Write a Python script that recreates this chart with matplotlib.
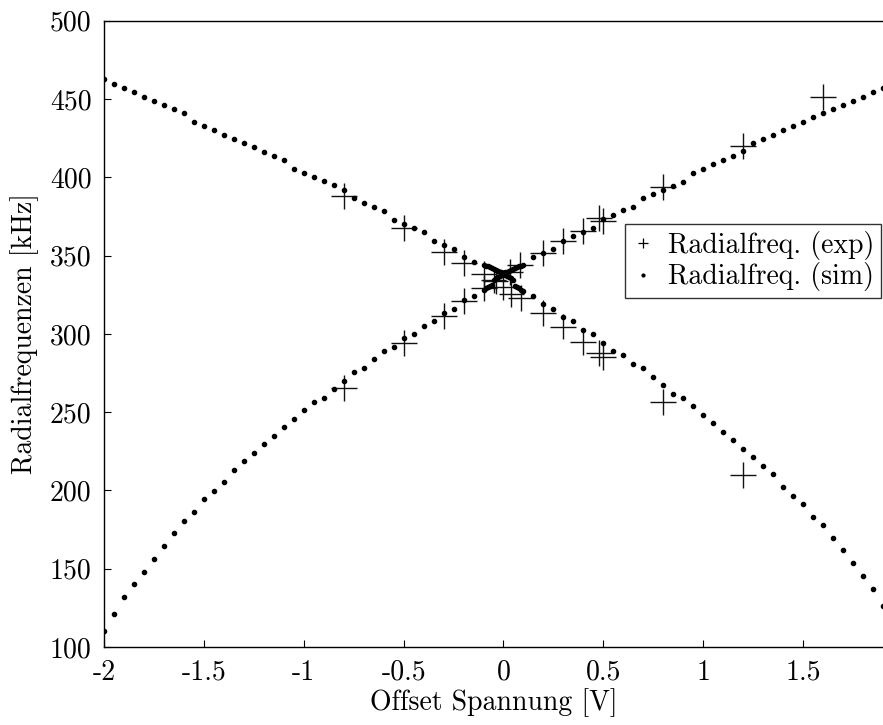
"""Radial frequencies vs. offset voltage: measurement (crosses) and simulation (dots)."""

import matplotlib

matplotlib.use("Agg")
import matplotlib.pyplot as plt
from matplotlib.lines import Line2D

# simulation grid [V]: coarse outside +-0.1 V, fine around the crossing
sim_voltage = [
    -2.00, -1.95, -1.90, -1.85, -1.80, -1.75, -1.70, -1.65, -1.60, -1.55,
    -1.50, -1.45, -1.40, -1.35, -1.30, -1.25, -1.20, -1.15, -1.10, -1.05,
    -1.00, -0.95, -0.90, -0.85, -0.80, -0.75, -0.70, -0.65, -0.60, -0.55,
    -0.50, -0.45, -0.40, -0.35, -0.30, -0.25, -0.20, -0.15,
    -0.10, -0.09, -0.08, -0.07, -0.06, -0.05, -0.04, -0.03, -0.02, -0.01,
    0.00, 0.01, 0.02, 0.03, 0.04, 0.05, 0.06, 0.07, 0.08, 0.09, 0.10,
    0.15, 0.20, 0.25, 0.30, 0.35, 0.40, 0.45, 0.50, 0.55, 0.60,
    0.65, 0.70, 0.75, 0.80, 0.85, 0.90, 0.95, 1.00, 1.05, 1.10,
    1.15, 1.20, 1.25, 1.30, 1.35, 1.40, 1.45, 1.50, 1.55, 1.60,
    1.65, 1.70, 1.75, 1.80, 1.85, 1.90,
]
# branch falling with voltage [kHz]
sim_freq_down = [
    462.8, 459.8, 457.0, 454.2, 451.5, 448.9, 446.1, 443.6, 440.8, 435.5,
    432.7, 429.9, 427.2, 424.6, 421.9, 419.1, 416.3, 413.7, 411.0, 405.6,
    402.9, 400.1, 397.6, 394.8, 392.0, 386.5, 383.7, 381.2, 378.4, 372.9,
    370.3, 367.6, 364.9, 359.4, 356.8, 353.9, 348.8, 345.8,
    343.8, 343.5, 343.1, 342.6, 342.1, 341.6, 341.0, 340.4, 339.8, 339.2,
    338.6, 337.9, 337.1, 336.3, 335.4, 334.4, 330.6, 329.8, 329.0, 328.2, 327.3,
    324.1, 319.0, 316.0, 310.8, 308.0, 302.6, 299.8, 294.4, 289.0, 286.4,
    280.8, 278.1, 272.7, 267.2, 261.9, 259.3, 253.8, 248.2, 243.1, 237.6,
    232.1, 226.7, 221.4, 215.9, 210.5, 202.2, 196.7, 191.6, 183.3, 177.9,
    169.8, 161.9, 153.5, 145.4, 137.3, 126.4,
]
# branch rising with voltage [kHz]
sim_freq_up = [
    110.4, 121.3, 131.9, 140.3, 148.1, 156.4, 164.5, 172.7, 180.7, 186.1,
    194.4, 199.7, 205.2, 213.3, 218.7, 224.2, 229.5, 235.0, 240.4, 245.7,
    251.2, 256.6, 259.3, 264.9, 270.2, 275.5, 278.3, 283.8, 289.1, 291.9,
    297.3, 300.0, 305.2, 308.1, 313.4, 316.0, 321.5, 324.3,
    328.0, 329.0, 329.8, 330.6, 331.4, 334.4, 335.4, 336.3, 337.1, 337.9,
    338.6, 339.2, 339.8, 340.4, 341.0, 341.6, 342.1, 342.6, 343.1, 343.5, 343.8,
    348.8, 351.6, 354.0, 359.4, 362.2, 365.2, 367.6, 373.2, 376.0, 378.8,
    381.3, 386.7, 389.3, 392.0, 394.6, 397.3, 402.7, 405.4, 408.2, 411.1,
    413.7, 416.9, 421.9, 424.6, 427.2, 429.9, 432.5, 435.3, 438.2, 441.0,
    443.6, 446.3, 448.9, 451.6, 454.4, 457.0,
]

# measurements
exp_voltage_down = [-0.8, -0.5, -0.3, -0.2, -0.1, -0.04, 0.0, 0.04, 0.09,
                    0.2, 0.3, 0.4, 0.48, 0.5, 0.8, 1.2]
exp_freq_down = [388.0, 367.5, 352.6, 345.5, 338.1, 333.5, 330.2, 325.5, 323.0,
                 313.3, 304.7, 295.1, 287.7, 285.2, 256.7, 209.9]
exp_voltage_up = [-0.8, -0.5, -0.3, -0.2, -0.1, -0.05, 0.035, 0.085,
                  0.2, 0.3, 0.4, 0.48, 0.5, 0.8, 1.2, 1.6]
exp_freq_up = [265.3, 294.1, 311.1, 320.7, 329.2, 334.5, 339.8, 344.1,
               351.6, 359.2, 366.0, 374.0, 372.3, 394.1, 420.1, 451.6]
voltage_err = 0.065
freq_err = 8.3

x_ticks = [-2, -1.5, -1, -0.5, 0, 0.5, 1, 1.5]
x_tick_labels = ["-2", "-1.5", "-1", "-0.5", "0", "0.5", "1", "1.5"]
y_ticks = [100, 150, 200, 250, 300, 350, 400, 450, 500]

plt.rcParams["font.family"] = "cmr10"
plt.rcParams["mathtext.fontset"] = "cm"
plt.rcParams["axes.unicode_minus"] = False
plt.rcParams["font.size"] = 20

fig = plt.figure(figsize=(8.83, 7.25), dpi=100)
ax = fig.add_axes([0.1178, 0.1076, 0.8822, 0.8638])

for volts, freqs in [(exp_voltage_down, exp_freq_down), (exp_voltage_up, exp_freq_up)]:
    ax.errorbar(volts, freqs, xerr=voltage_err, yerr=freq_err, fmt="none",
                ecolor="#111111", elinewidth=1.0, capsize=0)

for freqs in (sim_freq_down, sim_freq_up):
    ax.plot(sim_voltage, freqs, ls="none", marker="o", ms=3.0, color="black")

ax.set_xlim(-2, 1.9)
ax.set_ylim(100, 500)
ax.set_xticks(x_ticks)
ax.set_xticklabels(x_tick_labels)
ax.set_yticks(y_ticks)
ax.tick_params(direction="in", length=5, width=0.8, pad=9, top=False, right=False)
ax.spines["right"].set_visible(False)
for side in ("left", "bottom", "top"):
    ax.spines[side].set_linewidth(1.0)

ax.set_xlabel("Offset Spannung [V]", labelpad=2)
ax.set_ylabel("Radialfrequenzen [kHz]", labelpad=8)

handles = [
    Line2D([], [], ls="none", marker="+", ms=7, mew=0.9, color="black"),
    Line2D([], [], ls="none", marker=".", ms=4, color="black"),
]
leg = ax.legend(handles, ["Radialfreq. (exp)", "Radialfreq. (sim)"],
                loc="upper right", bbox_to_anchor=(0.998, 0.676), fancybox=False,
                framealpha=1, edgecolor="#333333", borderpad=0.25, labelspacing=0.1,
                handlelength=0.8, handletextpad=0.5, borderaxespad=0)
leg.get_frame().set_linewidth(1.0)

fig.savefig("out.png", dpi=100)
